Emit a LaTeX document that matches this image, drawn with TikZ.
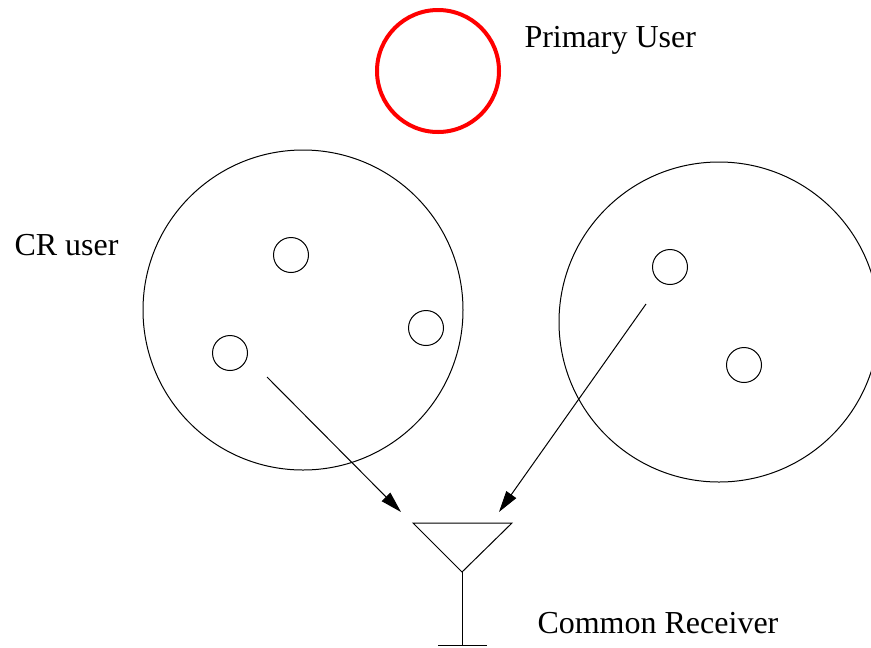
\documentclass[tikz,border=0pt]{standalone}
\usepackage{fontspec}
\setmainfont{Liberation Serif}
\usetikzlibrary{arrows.meta}
\tikzset{x=0.75pt, y=-0.75pt,
  every picture/.style={line width=0.75pt},
  primary/.style={draw=red,circle,line width=3pt,minimum size=91.5pt,inner sep=0pt},
  cell/.style={draw,circle,minimum size=240pt,inner sep=0pt},
  cruser/.style={draw,circle,minimum size=26.25pt,inner sep=0pt},
  label/.style={inner sep=0pt,anchor=base west,font=\fontsize{24}{28}\selectfont},
  link/.style={-{Triangle[length=16pt,width=9pt]}}}

\begin{document}
\begin{tikzpicture}
				\useasboundingbox (0,0) rectangle (871,647);

				\node[primary] (PU) at (438,71) {};
				\node[label] (PUtext) at (524,47) {Primary User};

				\node[cell] (C1) at (303,310) {};
				\node[cell] (C2) at (719,322) {};
				\node[label] (CRtext) at (14,255) {CR user};

				\node[cruser] (U1) at (291,255) {};
				\node[cruser] (U2) at (426,328) {};
				\node[cruser] (U3) at (230,353) {};
				\node[cruser] (U4) at (670,267) {};
				\node[cruser] (U5) at (744,365) {};

				% antenna of the receiver
				\coordinate (TL) at (413,523);
				\coordinate (TR) at (512,523);
				\coordinate (Apex) at (462,572);
				\coordinate (Foot) at (462,645);
				\coordinate (FL) at (438,645);
				\coordinate (FR) at (487,645);
				\draw (TL) -- (TR) -- (Apex) -- cycle;
				\draw (Apex) -- (Foot);
				\draw (FL) -- (FR);
				\node[label] (RXtext) at (537,633) {Common Receiver};

				\coordinate (S1) at (267,377);
				\coordinate (E1) at (401,512);
				\coordinate (S2) at (646,304);
				\coordinate (E2) at (499,512);
				\path[draw,link]
					(S1) -- (E1);
				\path[draw,link]
					(S2) -- (E2);
			\end{tikzpicture}
\end{document}
